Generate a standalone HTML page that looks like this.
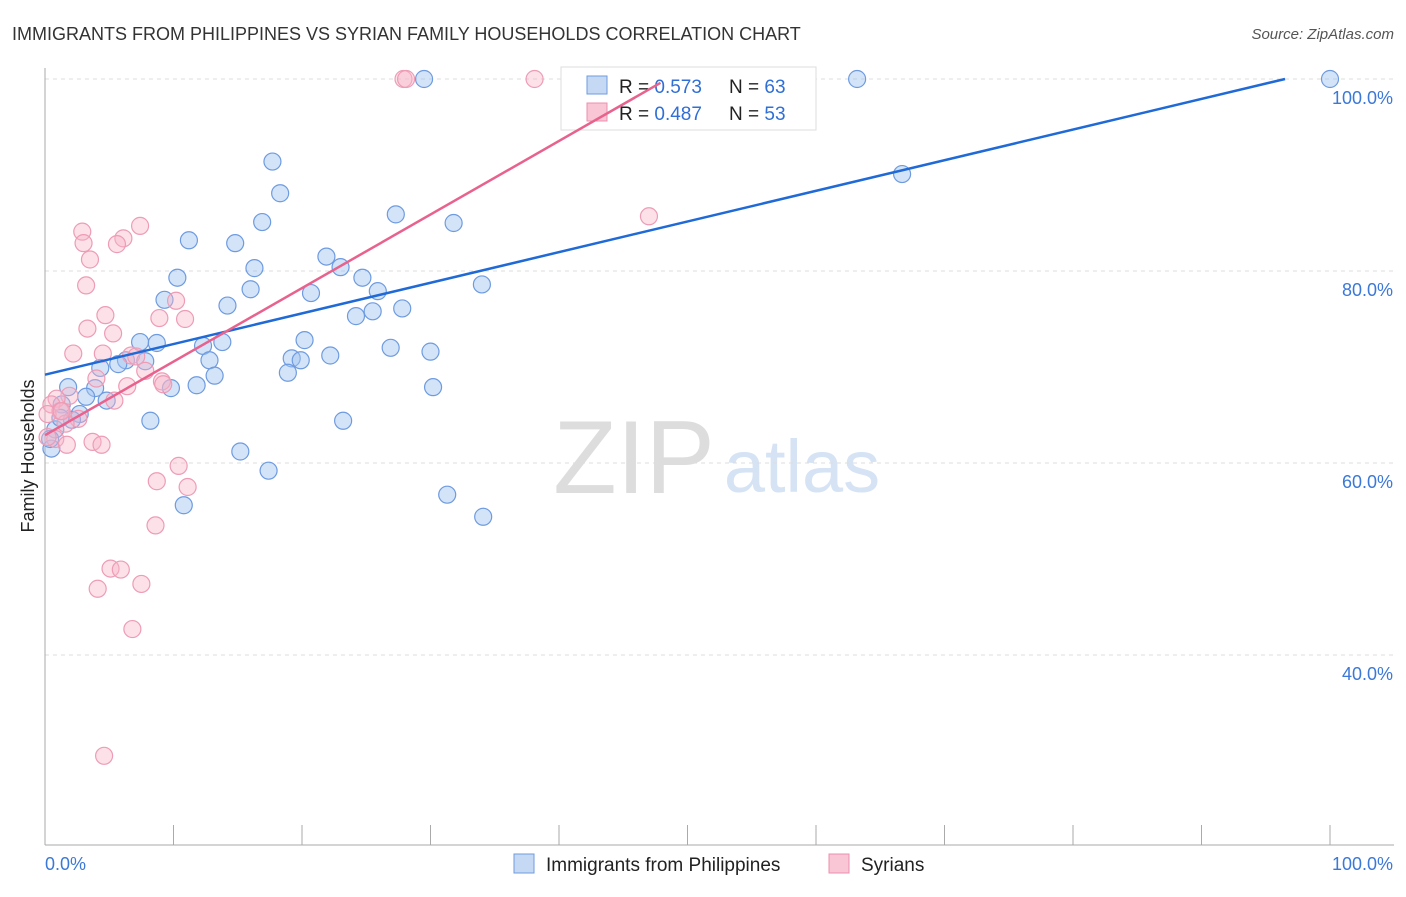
<!DOCTYPE html>
<html><head><meta charset="utf-8">
<style>
body{margin:0;background:#fff;font-family:"Liberation Sans",sans-serif;}
svg text{font-family:"Liberation Sans",sans-serif;}
</style></head>
<body>
<svg id="chart" width="1406" height="892" viewBox="0 0 1406 892" xmlns="http://www.w3.org/2000/svg">
<text x="12" y="40" font-size="18" fill="#333">IMMIGRANTS FROM PHILIPPINES VS SYRIAN FAMILY HOUSEHOLDS CORRELATION CHART</text>
<text x="1394" y="39" font-size="15" fill="#555" font-style="italic" text-anchor="end">Source: ZipAtlas.com</text>
<text x="634" y="493" font-size="104" fill="#ddd" font-family="Liberation Serif" text-anchor="middle">ZIP</text>
<text x="802" y="492" font-size="74" fill="#d5e3f5" text-anchor="middle">atlas</text>
<g id="grid"></g>
<g id="axes"></g>
<g>
<rect x="561" y="67" width="255" height="63" fill="#fff" stroke="#ddd"/>
<rect x="587" y="76" width="20" height="18" fill="#c5d9f5" stroke="#6e9be0"/>
<rect x="587" y="103" width="20" height="18" fill="#f9c6d6" stroke="#ec8fae"/>
<text x="619" y="93" font-size="19" fill="#222">R = <tspan fill="#2f6fd6">0.573</tspan></text>
<text x="729" y="93" font-size="19" fill="#222">N = <tspan fill="#2f6fd6">63</tspan></text>
<text x="619" y="120" font-size="19" fill="#222">R = <tspan fill="#2f6fd6">0.487</tspan></text>
<text x="729" y="120" font-size="19" fill="#222">N = <tspan fill="#2f6fd6">53</tspan></text>
</g>
<g id="pts"></g>
<g id="trends"></g>
<text transform="translate(34,456) rotate(-90)" font-size="18" fill="#222" text-anchor="middle">Family Households</text>
<g>
<rect x="514" y="854" width="20" height="19" fill="#c5d9f5" stroke="#6e9be0"/>
<text x="546" y="871" font-size="19" fill="#222">Immigrants from Philippines</text>
<rect x="829" y="854" width="20" height="19" fill="#f9c6d6" stroke="#ec8fae"/>
<text x="861" y="871" font-size="19" fill="#222">Syrians</text>
</g>
</svg>
<script>
const yTicks=[100,80,60,40];
const yTickLabels=["100.0%","80.0%","60.0%","40.0%"];
const xTickLabels=["0.0%","100.0%"];
const blueX=[29.5,63.2,100,17.7,18.3,66.7,27.3,31.8,16.9,11.2,14.8,21.9,16.3,23,10.3,24.7,16,25.9,20.7,34,9.3,14.2,27.8,25.5,24.2,7.4,8.7,13.8,20.2,26.9,30,12.3,12.8,19.2,19.9,22.2,6.3,7.8,4.3,5.7,18.9,13.2,9.8,11.8,1.8,3.9,30.2,3.2,4.8,1.3,2.7,2.1,8.2,23.2,0.8,0.5,15.2,17.4,31.3,34.1,10.8,0.4,1.2];
const blueY=[100,100,100,91.4,88.1,90.1,85.9,85,85.1,83.2,82.9,81.5,80.3,80.4,79.3,79.3,78.1,77.9,77.7,78.6,77,76.4,76.1,75.8,75.3,72.6,72.5,72.6,72.8,72,71.6,72.2,70.7,70.9,70.7,71.2,70.7,70.6,69.9,70.3,69.4,69.1,67.8,68.1,67.9,67.8,67.9,66.9,66.5,66.1,65.1,64.5,64.4,64.4,63.5,61.5,61.2,59.2,56.7,54.4,55.6,62.5,64.7];
const pinkX=[27.9,28.1,38.1,47,7.4,2.9,6.1,3,5.6,3.5,3.2,10.2,4.7,10.9,8.9,3.3,5.3,2.2,4.5,6.7,7.1,4,6.4,9.1,9.2,7.8,5.4,1.9,0.9,0.5,1.2,0.2,2.6,1.6,0.8,1.7,3.7,4.4,10.4,8.7,11.1,8.6,5.1,5.9,7.5,4.1,6.8,4.6,0.2,1.3];
const pinkY=[100,100,100,85.7,84.7,84.1,83.4,82.9,82.8,81.2,78.5,76.9,75.4,75,75.1,74,73.5,71.4,71.4,71.2,71.1,68.8,68,68.5,68.2,69.6,66.5,67,66.7,66.1,65.4,65.1,64.6,64.1,62.5,61.9,62.2,61.9,59.7,58.1,57.5,53.5,49,48.9,47.4,46.9,42.7,29.5,62.7,65.4];
const blueTrend=[[0,69.2],[96.5,100]];
const pinkTrend=[[0,62.9],[47.9,99.6]];
const NS="http://www.w3.org/2000/svg";
const X=v=>45+v*12.85, Y=v=>79+(100-v)*9.6;
function mk(t,a,p){const e=document.createElementNS(NS,t);for(const k in a)e.setAttribute(k,a[k]);p.appendChild(e);return e;}
const grid=document.getElementById('grid'),axes=document.getElementById('axes'),pts=document.getElementById('pts'),tr=document.getElementById('trends');
yTicks.forEach((v,i)=>{
 const l=mk('line',{x1:45,x2:1394,y1:Y(v),y2:Y(v),stroke:'#ddd','stroke-dasharray':'4,4'},grid);
 
 
 const t=mk('text',{x:1393,y:Y(v)+25,'font-size':18,fill:'#3b78d8','text-anchor':'end'},axes);
 t.textContent=yTickLabels[i];
 
 
});
mk('line',{x1:45,x2:45,y1:68,y2:845,stroke:'#aaa'},axes);
mk('line',{x1:45,x2:1394,y1:845,y2:845,stroke:'#aaa'},axes);
for(let i=0;i<=10;i++){const tk=mk('line',{x1:X(i*10),x2:X(i*10),y1:825,y2:845,stroke:'#aaa'},axes);
 
 }
const t0=mk('text',{x:45,y:870,'font-size':18,fill:'#3b78d8'},axes);t0.textContent=xTickLabels[0];


const t1=mk('text',{x:1393,y:870,'font-size':18,fill:'#3b78d8','text-anchor':'end'},axes);t1.textContent=xTickLabels[1];


blueX.forEach((v,i)=>{const c=mk('circle',{cx:X(v),cy:Y(blueY[i]),r:8.5,fill:'rgba(160,195,240,0.45)',stroke:'#6e9be0','stroke-width':1.2},pts);
 
 });
pinkX.forEach((v,i)=>{const c=mk('circle',{cx:X(v),cy:Y(pinkY[i]),r:8.5,fill:'rgba(248,180,200,0.4)',stroke:'#ee9cb6','stroke-width':1.2},pts);
 
 });
const bl=mk('line',{x1:X(blueTrend[0][0]),y1:Y(blueTrend[0][1]),x2:X(blueTrend[1][0]),y2:Y(blueTrend[1][1]),stroke:'#1f6ad6','stroke-width':2.5},tr);


const pl=mk('line',{x1:X(pinkTrend[0][0]),y1:Y(pinkTrend[0][1]),x2:X(pinkTrend[1][0]),y2:Y(pinkTrend[1][1]),stroke:'#e8628d','stroke-width':2.5},tr);


</script>
</body></html>
